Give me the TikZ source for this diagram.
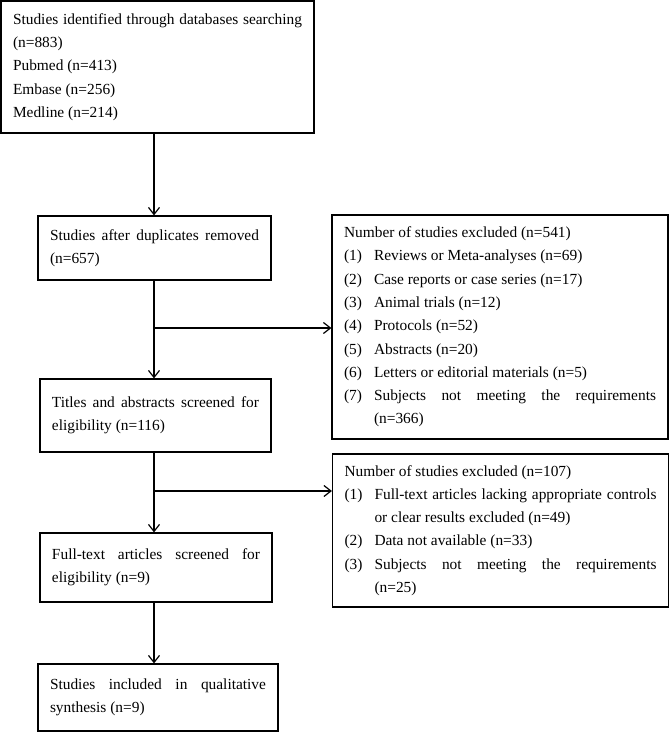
\documentclass[tikz,border=0pt]{standalone}
\usepackage{fontspec}
\setmainfont{Liberation Serif}
\usetikzlibrary{arrows.meta,positioning}
\setlength\parindent{0pt}
\hyphenpenalty=10000
\newcommand\exitem[2]{\par\hangindent=30pt\hangafter=1\noindent\makebox[30pt][l]{#1}#2\par}

\begin{document}
\begin{tikzpicture}[x=1pt, y=-1pt,
    box/.style={draw, line width=1.2pt, inner xsep=12pt, inner ysep=0pt, align=justify,
      font=\fontsize{15.4}{23.3}\selectfont},
    flow/.style={line width=1.2pt, -{Straight Barb[length=7pt,width=11pt]}}]
  \useasboundingbox (0,0) rectangle (669,732);

  \node[box, text width=289pt, minimum height=132pt] (search) at (157.5,67)
    {Studies identified through databases searching (n=883)\\
     Pubmed (n=413)\\
     Embase (n=256)\\
     Medline (n=214)};
  \node[box, text width=209pt, minimum height=64pt] (dedup) at (154.5,248)
    {Studies after duplicates removed (n=657)};
  \node[box, text width=207pt, minimum height=73pt] (screen) at (155.5,415.5)
    {Titles and abstracts screened for eligibility (n=116)};
  \node[box, text width=208pt, minimum height=69pt] (fulltext) at (156,567.5)
    {Full-text articles screened for eligibility (n=9)};
  \node[box, text width=216pt, minimum height=67pt] (included) at (158,697.5)
    {Studies included in qualitative synthesis (n=9)};

  \node[box, text width=312pt, minimum height=224pt] (excl1) at (500,327)
    {Number of studies excluded (n=541)
     \exitem{(1)}{Reviews or Meta-analyses (n=69)}
     \exitem{(2)}{Case reports or case series (n=17)}
     \exitem{(3)}{Animal trials (n=12)}
     \exitem{(4)}{Protocols (n=52)}
     \exitem{(5)}{Abstracts (n=20)}
     \exitem{(6)}{Letters or editorial materials (n=5)}
     \exitem{(7)}{Subjects not meeting the requirements \linebreak(n=366)}};
  \node[box, text width=312pt, minimum height=153pt] (excl2) at (500.5,530.5)
    {Number of studies excluded (n=107)
     \exitem{(1)}{Full-text articles lacking appropriate controls or clear results excluded (n=49)}
     \exitem{(2)}{Data not available (n=33)}
     \exitem{(3)}{Subjects not meeting the requirements \linebreak(n=25)}};

  \coordinate (spine) at (154,0);
  \coordinate (b1) at (154,328);
  \coordinate (b2) at (154,491);
  \draw[flow] (spine |- search.south) -- (spine |- dedup.north);
  \draw[flow] (spine |- dedup.south) -- (spine |- screen.north);
  \draw[flow] (spine |- screen.south) -- (spine |- fulltext.north);
  \draw[flow] (spine |- fulltext.south) -- (spine |- included.north);
  \draw[flow] (b1) -- (b1 -| excl1.west);
  \draw[flow] (b2) -- (b2 -| excl2.west);
\end{tikzpicture}
\end{document}
